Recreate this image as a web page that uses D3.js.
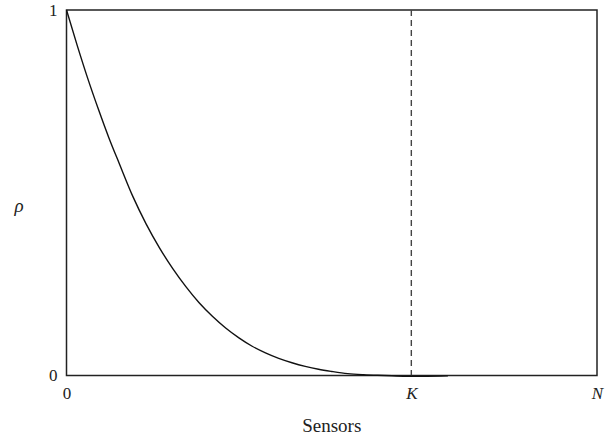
<!DOCTYPE html>
<html>
<head>
<meta charset="utf-8">
<script src="https://cdn.jsdelivr.net/npm/d3@7/dist/d3.min.js"></script>
<style>
  html, body { margin: 0; padding: 0; background: #fff; }
  svg { display: block; }
  svg text { font-family: "Liberation Serif", "Times New Roman", Times, "DejaVu Serif", "Noto Serif", serif !important; fill: #222; }
</style>
</head>
<body>
<svg id="chart" width="615" height="440"></svg>
<script>
// Correlation ρ against number of sensors (N = 100 sensors, cut-off K)
const sensors = [0, 2, 4, 6, 8, 10, 12.5, 15, 17.5, 20, 22.5, 25, 27.5, 30, 32.5, 35, 37.5, 40, 42.5, 45, 47.5, 50, 53, 56, 60, 64, 68, 71.9];
const rho     = [1, 0.904, 0.813, 0.729, 0.65, 0.578, 0.49, 0.415, 0.35, 0.293, 0.243, 0.199, 0.162, 0.13, 0.103, 0.08, 0.062, 0.047, 0.035, 0.025, 0.017, 0.011, 0.005, 0.002, 0.0, -0.002, -0.002, -0.001];

const xTickValues = [0, 65, 100];
const xTickLabels = ["0", "K", "N"];
const yTickValues = [0, 1];
const yTickLabels = ["0", "1"];
const kValue = 65;

const margin = { left: 66.5, right: 18, top: 10, bottom: 64.5 };
const W = 615, H = 440;
const svg = d3.select("#chart");

const x = d3.scaleLinear().domain([0, 100]).range([margin.left, W - margin.right]);
const y = d3.scaleLinear().domain([0, 1]).range([H - margin.bottom, margin.top]);

// Frame around the plotting area
svg.append("rect")
  .attr("x", x(0)).attr("y", y(1))
  .attr("width", x(100) - x(0)).attr("height", y(0) - y(1))
  .attr("fill", "none").attr("stroke", "#222").attr("stroke-width", 1.5);

// Axes (ticks rendered as labels only)
const xAxis = d3.axisBottom(x).tickValues(xTickValues)
  .tickFormat((d, i) => xTickLabels[i]).tickSize(0).tickPadding(11);
const gx = svg.append("g").attr("transform", `translate(0,${y(0)})`).call(xAxis);
gx.attr("font-family", null).attr("font-size", null);
gx.select(".domain").remove();
gx.selectAll("text")
  .attr("font-size", 17)
  .attr("fill", "#222")
  .attr("font-style", (d, i) => i > 0 ? "italic" : "normal");

const yAxis = d3.axisLeft(y).tickValues(yTickValues)
  .tickFormat((d, i) => yTickLabels[i]).tickSize(0).tickPadding(9);
const gy = svg.append("g").attr("transform", `translate(${x(0)},0)`).call(yAxis);
gy.attr("font-family", null).attr("font-size", null);
gy.select(".domain").remove();
gy.selectAll("text")
  .attr("font-size", 17)
  .attr("fill", "#222");

// Dashed marker at K
svg.append("line")
  .attr("x1", x(kValue)).attr("x2", x(kValue))
  .attr("y1", y(1)).attr("y2", y(0))
  .attr("stroke", "#444").attr("stroke-width", 1.4)
  .attr("stroke-dasharray", "6,4");

// ρ curve
const line = d3.line()
  .x((d, i) => x(sensors[i]))
  .y(d => y(d))
  .curve(d3.curveMonotoneX);
svg.append("path")
  .datum(rho)
  .attr("d", line)
  .attr("fill", "none")
  .attr("stroke", "#111")
  .attr("stroke-width", 1.4);

// Axis titles
svg.append("text")
  .attr("x", (x(0) + x(100)) / 2).attr("y", 432)
  .attr("text-anchor", "middle").attr("font-size", 19)
  .text("Sensors");

svg.append("text")
  .attr("x", 19).attr("y", 212)
  .attr("text-anchor", "middle").attr("font-size", 19)
  .attr("font-style", "italic")
  .text("ρ");
</script>
</body>
</html>
